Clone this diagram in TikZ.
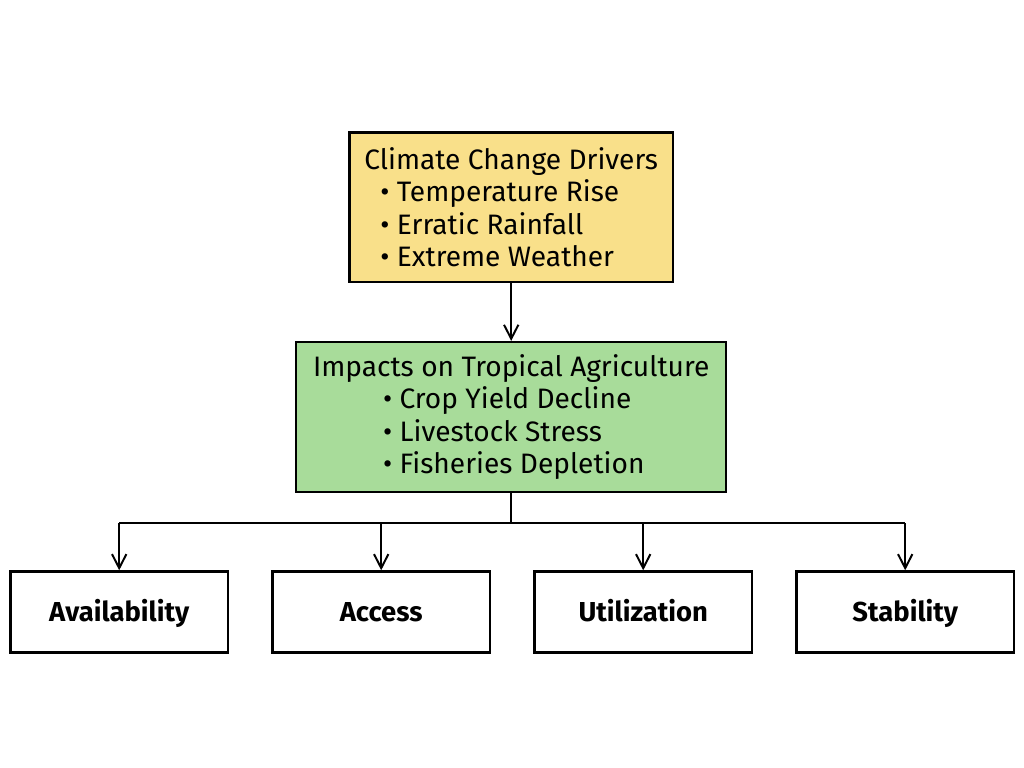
\documentclass[tikz,border=0pt]{standalone}
\usepackage{fontspec}
\setmainfont{Fira Sans}
\usepackage{xcolor}
\usetikzlibrary{positioning, arrows.meta}
\definecolor{driverfill}{HTML}{F9E08A}
\definecolor{impactfill}{HTML}{A8DC9A}

\begin{document}
\begin{tikzpicture}[
    % --- Global Settings ---
    % Vertical spacing between the two upper blocks
    node distance = 1.45cm,
    % Font for all nodes in the picture
    every node/.style={font=\fontsize{20}{23}\selectfont}
  ]

  % --- Style Definitions ---
  \tikzset{
    % Style for the framed blocks (sharp corners, thick border)
    block/.style={
      draw=black,
      line width=1.6pt,
      inner sep=0pt,
      align=left
    },
    % Style for the upper block (climate drivers)
    drivers/.style={
      block,
      fill=driverfill,
      minimum width=8.08cm,
      minimum height=3.73cm
    },
    % Style for the middle block (impacts)
    impacts/.style={
      block,
      fill=impactfill,
      minimum width=10.75cm,
      minimum height=3.75cm
    },
    % Style for the four pillar blocks at the bottom
    pillar/.style={
      block,
      fill=white,
      minimum width=5.43cm,
      minimum height=2.03cm,
      text height=15pt,
      text depth=1.6pt,
      font=\fontsize{19.5}{23}\selectfont\bfseries
    },
    % Style for the arrows (open barb tip)
    arrow/.style={
      -{Straight Barb[length=3.5mm, width=3.6mm]},
      line width=1.4pt
    },
    % Style for plain connector lines
    link/.style={
      line width=1.4pt
    }
  }

  % Page frame with the margins of the picture
  \useasboundingbox (0,0) rectangle (25.6,-19.2);

  % --- Node Placement ---
  % Climate drivers block at the top
  \node[drivers] (drivers) at (12.78, -5.18)
    {Climate Change Drivers\\
     \hspace*{0.4cm}\textbullet\ Temperature Rise\\
     \hspace*{0.4cm}\textbullet\ Erratic Rainfall\\
     \hspace*{0.4cm}\textbullet\ Extreme Weather};

  % Impacts block below it
  \node[impacts] (impacts) [below=of drivers]
    {Impacts on Tropical Agriculture\\
     \hspace*{1.75cm}\textbullet\ Crop Yield Decline\\
     \hspace*{1.75cm}\textbullet\ Livestock Stress\\
     \hspace*{1.75cm}\textbullet\ Fisheries Depletion};

  % The four pillars of food security
  \node[pillar] (availability) at (2.98, -15.3)  {Availability};
  \node[pillar] (access)       at (9.53, -15.3)  {Access};
  \node[pillar] (utilization)  at (16.08, -15.3) {Utilization};
  \node[pillar] (stability)    at (22.63, -15.3) {Stability};

  % Branching point below the impacts block
  \coordinate (branch) at (impacts.south |- 0,-13.08);

  % --- Path and Arrow Drawing ---
  % Drivers lead to impacts
  \draw[arrow] (drivers.south) -- (impacts.north);

  % Trunk down to the horizontal bus
  \draw[link] (impacts.south) -- (branch);
  \draw[link] (availability.north |- branch) -- (stability.north |- branch);

  % Drops into each pillar
  \foreach \p in {availability, access, utilization, stability}
    \draw[arrow] (\p.north |- branch) -- (\p.north);

\end{tikzpicture}
\end{document}
